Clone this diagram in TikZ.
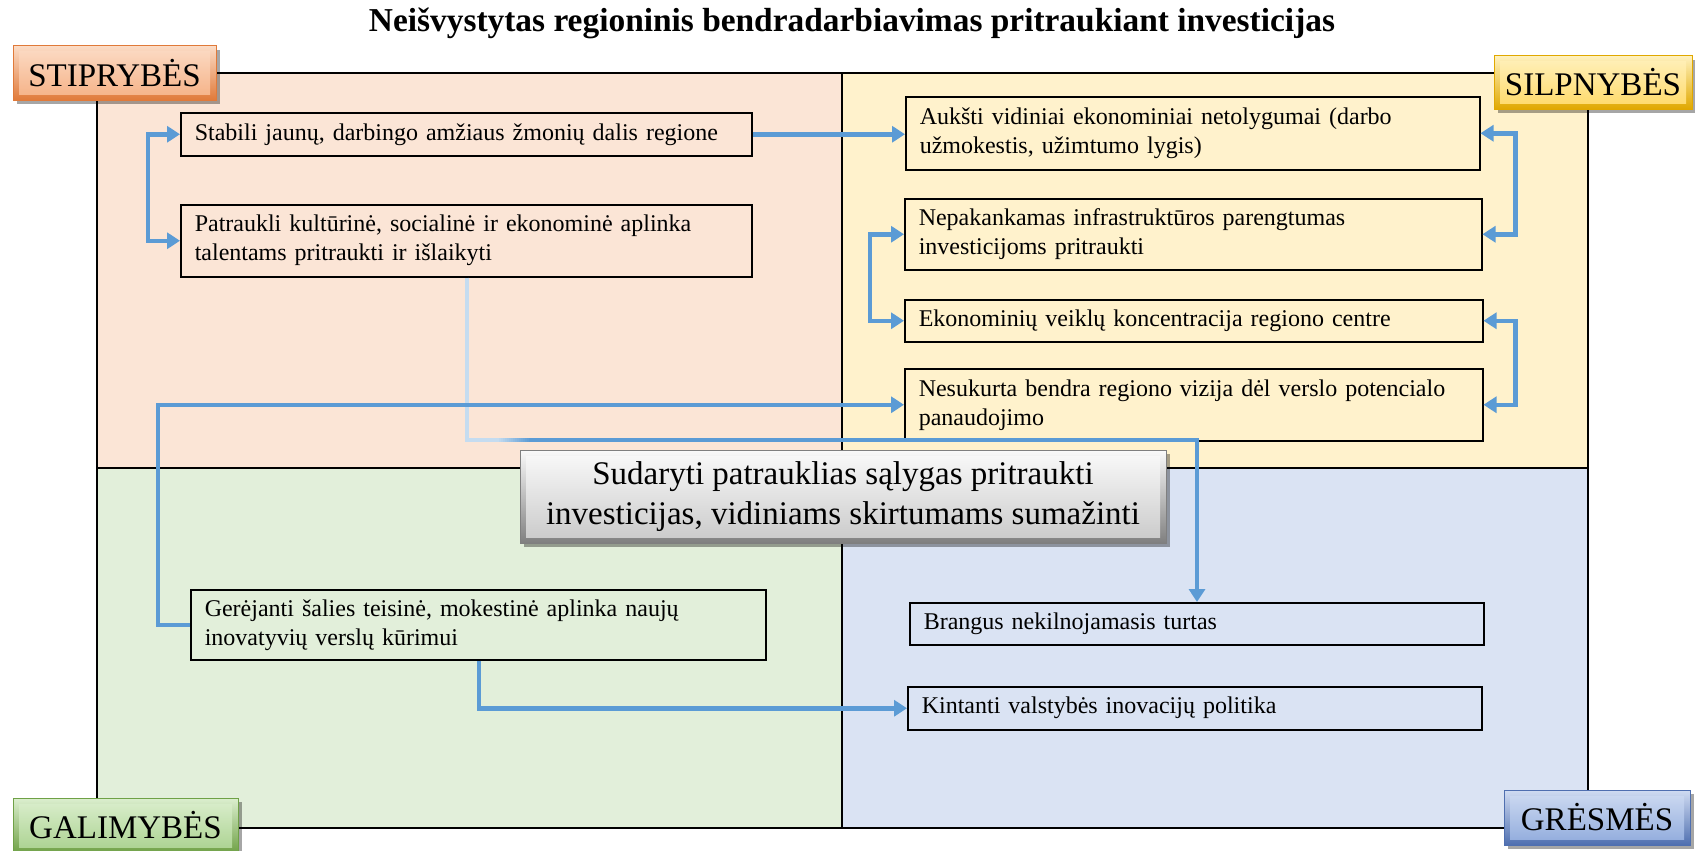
\documentclass[tikz,border=0pt]{standalone}
\usepackage{fontspec}
\setmainfont{Liberation Serif}
\usetikzlibrary{arrows.meta,shadows}
\definecolor{qTL}{HTML}{FBE5D6}
\definecolor{qTR}{HTML}{FFF2CC}
\definecolor{qBL}{HTML}{E2EFDA}
\definecolor{qBR}{HTML}{DAE3F3}
\definecolor{conn}{HTML}{5B9BD5}
\definecolor{connL}{HTML}{C5DCF0}
\definecolor{orE}{HTML}{E07A3A}
\definecolor{orM}{HTML}{F5B084}
\definecolor{orL}{HTML}{FCDCC6}
\definecolor{goE}{HTML}{E0A800}
\definecolor{goM}{HTML}{FFD966}
\definecolor{goL}{HTML}{FFF1BD}
\definecolor{grE}{HTML}{6FA146}
\definecolor{grM}{HTML}{A9D18E}
\definecolor{grL}{HTML}{DCEFCF}
\definecolor{blE}{HTML}{4F6FB0}
\definecolor{blM}{HTML}{8FAADC}
\definecolor{blL}{HTML}{D0DCF2}
\definecolor{gyE}{HTML}{7F7F7F}
\definecolor{gyM}{HTML}{C9C9C9}
\definecolor{gyL}{HTML}{FAFAFA}
\tikzset{
  quad/.style={draw=black, line width=1.5pt},
  tbox/.style={draw=black, line width=1.5pt, inner xsep=14pt, inner ysep=0pt,
    align=left, anchor=north west, font=\fontsize{24}{29}\selectfont},
  arr/.style={draw=conn, line width=4.5pt, -{Triangle[length=13pt,width=16pt]}},
  darr/.style={draw=conn, line width=4.5pt, {Triangle[length=13pt,width=16pt]}-{Triangle[length=13pt,width=16pt]}},
  bevel/.style n args={3}{draw=#1, line width=1pt,
    top color=#3, bottom color=#1,
    drop shadow={shadow xshift=4pt, shadow yshift=-4pt, fill=black, opacity=0.35},
    path picture={\shade[top color=#3, bottom color=#2]
      ([shift={(6pt,-6pt)}]path picture bounding box.north west) rectangle
      ([shift={(-6pt,6pt)}]path picture bounding box.south east);}},
  lab/.style={inner sep=0pt, font=\fontsize{33}{40}\selectfont}
}
\begin{document}
\begin{tikzpicture}[x=1pt,y=-1pt]
\useasboundingbox[fill=white] (0,0) rectangle (1695,851);
% title
\node[font=\fontsize{33.4}{38}\selectfont\bfseries] (title) at (852,23)
  {Neišvystytas regioninis bendradarbiavimas pritraukiant investicijas};
% quadrants
\draw[quad, fill=qTL] (97,73) rectangle (842,468);
\draw[quad, fill=qTR] (842,73) rectangle (1588,468);
\draw[quad, fill=qBL] (97,468) rectangle (842,828);
\draw[quad, fill=qBR] (842,468) rectangle (1588,828);
% boxes
\node[tbox, text width=543pt, minimum height=43pt] (stab) at (180,112)
  {Stabili jaunų, darbingo amžiaus žmonių dalis regione};
\node[tbox, text width=543pt, minimum height=72pt] (patr) at (180,204)
  {Patraukli kultūrinė, socialinė ir ekonominė aplinka\\talentams pritraukti ir išlaikyti};
\node[tbox, text width=546pt, minimum height=73pt] (auk) at (905,96)
  {Aukšti vidiniai ekonominiai netolygumai (darbo\\užmokestis, užimtumo lygis)};
\node[tbox, text width=549pt, minimum height=71pt] (nep) at (904,198)
  {Nepakankamas infrastruktūros parengtumas\\investicijoms pritraukti};
\node[tbox, text width=550pt, minimum height=42pt] (eko) at (904,299)
  {Ekonominių veiklų koncentracija regiono centre};
\node[tbox, text width=550pt, minimum height=72pt] (nes) at (904,368)
  {Nesukurta bendra regiono vizija dėl verslo potencialo\\panaudojimo};
\node[tbox, text width=547pt, minimum height=70pt] (ger) at (190,589)
  {Gerėjanti šalies teisinė, mokestinė aplinka naujų\\inovatyvių verslų kūrimui};
\node[tbox, text width=546pt, minimum height=42pt] (brg) at (909,602)
  {Brangus nekilnojamasis turtas};
\node[tbox, text width=546pt, minimum height=43pt] (kin) at (907,686)
  {Kintanti valstybės inovacijų politika};
% connectors
\coordinate (p7) at (467,440);
\coordinate (p7m) at (497,440);
\coordinate (p7n) at (531,440);
\coordinate (q7) at (1197,440);
\draw[draw=connL, line width=4.5pt] (patr.south -| p7) -- (p7) -- (p7m);
\foreach \i in {0,...,16} {
  \pgfmathsetmacro{\pc}{\i*100/16}
  \draw[draw=conn!\pc!connL, line width=4.5pt] (497+\i*2,440) -- (499.2+\i*2,440);
}
\draw[arr] (p7n) -- (q7) -- (brg.north -| q7);
\draw[darr] (stab.west) -- ++(-32,0) |- (patr.west);
\draw[arr] (stab.east) -- (stab.east -| auk.west);
\draw[darr] (auk.east) -- ++(35,0) |- (nep.east);
\draw[darr] (nep.west) -- ++(-34,0) |- (eko.west);
\draw[darr] (eko.east) -- ++(32,0) |- (nes.east);
\draw[arr] (ger.west) -- ++(-32,0) |- (nes.west);
\coordinate (g8) at (479,708);
\draw[arr] (ger.south -| g8) |- (kin.west);
% center box
\node[bevel={gyE}{gyM}{gyL}, lab, minimum width=646pt, minimum height=93pt, align=center] (ctr) at (843,496.5)
  {Sudaryti patrauklias sąlygas pritraukti\\investicijas, vidiniams skirtumams sumažinti};
% labels
\node[bevel={orE}{orM}{orL}, lab, minimum width=203pt, minimum height=54pt] (stp) at (114.5,73) {STIPRYBĖS};
\node[bevel={goE}{goM}{goL}, lab, minimum width=198pt, minimum height=53pt] (slp) at (1593,82.5) {SILPNYBĖS};
\node[bevel={grE}{grM}{grL}, lab, minimum width=225pt, minimum height=55pt] (gal) at (125.5,825.5) {GALIMYBĖS};
\node[bevel={blE}{blM}{blL}, lab, minimum width=186pt, minimum height=55pt] (grs) at (1597,817.5) {GRĖSMĖS};
\end{tikzpicture}
\end{document}
